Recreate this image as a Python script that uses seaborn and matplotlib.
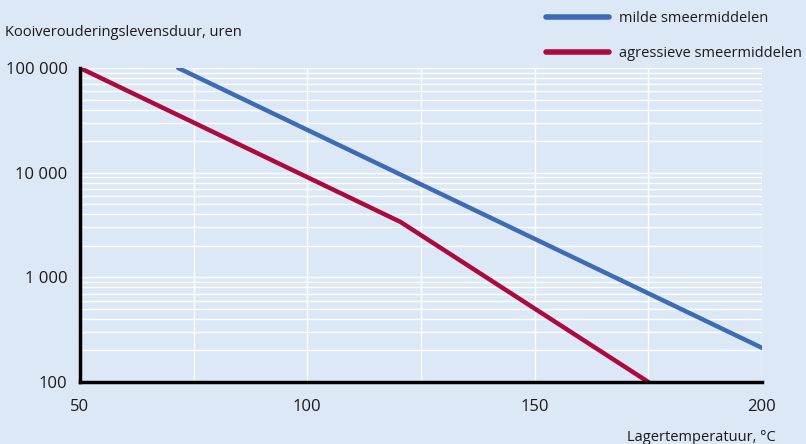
import matplotlib
matplotlib.use("Agg")
import matplotlib.pyplot as plt
import matplotlib.ticker as mticker
from matplotlib.lines import Line2D
import seaborn as sns
import pandas as pd

# ---- data ----
series_names = ["milde smeermiddelen", "agressieve smeermiddelen"]
mild_temp = [71.6, 200]
mild_life = [100000, 212]
aggr_temp = [50, 120.5, 175]
aggr_life = [100000, 3380, 100]
x_ticks = [50, 100, 150, 200]
y_ticks = [100, 1000, 10000, 100000]
y_tick_labels = ["100", "1 000", "10 000", "100 000"]

colors = {"milde smeermiddelen": "#3d6cb4", "agressieve smeermiddelen": "#ab0a3d"}
bg = "#dce8f6"

df = pd.concat([
    pd.DataFrame({"temp": mild_temp, "life": mild_life, "serie": series_names[0]}),
    pd.DataFrame({"temp": aggr_temp, "life": aggr_life, "serie": series_names[1]}),
])

sns.set_theme(style="white")
plt.rcParams["font.family"] = ["Open Sans", "DejaVu Sans"]

fig = plt.figure(figsize=(8.06, 4.44), dpi=100, facecolor=bg)
ax = fig.add_axes([80/806, 1-382/444, (762-80)/806, (382-68)/444])
ax.set_facecolor(bg)

sns.lineplot(data=df, x="temp", y="life", hue="serie", palette=colors,
             linewidth=3.2, legend=False, ax=ax, sort=False, estimator=None)

ax.set_yscale("log")
ax.set_xlim(50, 200)
ax.set_ylim(100, 100000)

ax.set_xticks(x_ticks)
ax.set_xticklabels([str(v) for v in x_ticks])
ax.xaxis.set_minor_locator(mticker.MultipleLocator(25))
ax.set_yticks(y_ticks)
ax.set_yticklabels(y_tick_labels)
ax.yaxis.set_minor_locator(mticker.LogLocator(base=10, subs=range(2, 10)))
ax.yaxis.set_minor_formatter(mticker.NullFormatter())

ax.grid(True, which="both", color="white", linewidth=1.0)
ax.set_axisbelow(True)

for s in ["top", "right"]:
    ax.spines[s].set_visible(False)
for s in ["left", "bottom"]:
    ax.spines[s].set_color("black")
    ax.spines[s].set_linewidth(2.5)

ax.tick_params(which="major", direction="out", length=5, width=2.5, color="black",
               labelsize=12, labelcolor="#1a1a1a")
ax.tick_params(axis="y", which="major", pad=4)
ax.tick_params(axis="x", which="major", pad=7)
ax.tick_params(which="minor", length=0)
ax.set_xlabel("")
ax.set_ylabel("")

fig.text(5/806, 1-33/444, "Kooiverouderingslevensduur, uren", ha="left", va="center",
         fontsize=10.5, color="#1a1a1a")
fig.text(776/806, 1-437/444, "Lagertemperatuur, °C", ha="right", va="center",
         fontsize=10.5, color="#1a1a1a")

handles = [Line2D([0], [0], color=colors[n], linewidth=4) for n in series_names]
leg = fig.legend(handles, series_names, loc="upper left", bbox_to_anchor=(546/806, 1-11/444),
                 frameon=False, fontsize=10.5, handlelength=4.3, labelspacing=1.35,
                 handletextpad=0.7, borderaxespad=0, borderpad=0)
for t in leg.get_texts():
    t.set_color("#1a1a1a")

fig.savefig("out.png", dpi=100, facecolor=bg)
